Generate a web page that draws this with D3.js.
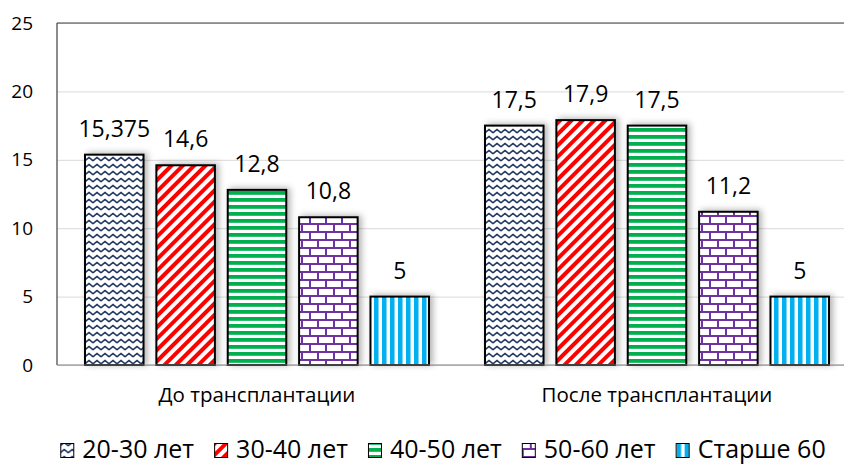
<!DOCTYPE html>
<html>
<head>
<meta charset="utf-8">
<script src="https://cdn.jsdelivr.net/npm/d3@7"></script>
<style>
  body { margin: 0; background: #fff; }
  text { font-family: "Open Sans", sans-serif; fill: #000; }
</style>
</head>
<body>
<div id="chart"></div>
<script>
// data
var groups = ["До трансплантации", "После трансплантации"];
var series = ["20-30 лет", "30-40 лет", "40-50 лет", "50-60 лет", "Старше 60"];
var before = [15.375, 14.6, 12.8, 10.8, 5];
var after = [17.5, 17.9, 17.5, 11.2, 5];
var yTicks = [0, 5, 10, 15, 20, 25];

var values = [before, after];

var svgWidth = 844;
var svgHeight = 464;

var margin = { top: 23, right: -13, bottom: 99, left: 57 };
var width = svgWidth - margin.left - margin.right;
var height = svgHeight - margin.top - margin.bottom;

var svg = d3.select("#chart")
  .append("svg")
  .attr("width", svgWidth)
  .attr("height", svgHeight);

var defs = svg.append("defs");

// drop shadow for bars
var shadow = defs.append("filter")
  .attr("id", "shadow")
  .attr("x", "-20%").attr("y", "-10%")
  .attr("width", "150%").attr("height", "130%");
shadow.append("feDropShadow")
  .attr("dx", 3).attr("dy", -1)
  .attr("stdDeviation", 3)
  .attr("flood-color", "#000")
  .attr("flood-opacity", 0.3);

// patterns
var p;
p = defs.append("pattern").attr("id", "pat0")
  .attr("patternUnits", "userSpaceOnUse").attr("width", 8).attr("height", 7);
p.append("rect").attr("width", 8).attr("height", 7).attr("fill", "#fff");
p.append("path").attr("d", "M0,5 L2,3 L4,1.5 L6,3 L8,5")
  .attr("fill", "none").attr("stroke", "#203864").attr("stroke-width", 1.6);

p = defs.append("pattern").attr("id", "pat1")
  .attr("patternUnits", "userSpaceOnUse").attr("width", 8).attr("height", 8)
  .attr("patternTransform", "rotate(45)");
p.append("rect").attr("width", 8).attr("height", 8).attr("fill", "#fff");
p.append("rect").attr("width", 4).attr("height", 8).attr("fill", "#ff0000");

p = defs.append("pattern").attr("id", "pat2")
  .attr("patternUnits", "userSpaceOnUse").attr("width", 8).attr("height", 7);
p.append("rect").attr("width", 8).attr("height", 7).attr("fill", "#fff");
p.append("rect").attr("width", 8).attr("height", 3.8).attr("fill", "#00b050");

p = defs.append("pattern").attr("id", "pat3")
  .attr("patternUnits", "userSpaceOnUse").attr("width", 16).attr("height", 16);
p.append("rect").attr("width", 16).attr("height", 16).attr("fill", "#fff");
p.append("path").attr("d", "M0,1 H16 M0,9 H16 M1,0 V8 M9,8 V16")
  .attr("fill", "none").attr("stroke", "#7030a0").attr("stroke-width", 2);

p = defs.append("pattern").attr("id", "pat4")
  .attr("patternUnits", "userSpaceOnUse").attr("width", 8).attr("height", 8);
p.append("rect").attr("width", 8).attr("height", 8).attr("fill", "#fff");
p.append("rect").attr("x", 1).attr("width", 4.5).attr("height", 8).attr("fill", "#00b0f0");

var chartGroup = svg.append("g")
  .attr("transform", `translate(${margin.left}, ${margin.top})`);

// scales
var x0 = d3.scaleBand()
  .domain(groups)
  .range([0, width])
  .paddingInner(0.14)
  .paddingOuter(0.07);

var x1 = d3.scaleBand()
  .domain(series)
  .range([0, x0.bandwidth()])
  .paddingInner(0.18);

var y = d3.scaleLinear()
  .domain([0, 25])
  .range([height, 0]);

var locale = d3.formatLocale({ decimal: ",", thousands: " ", grouping: [3], currency: ["", ""] });
var fmt = locale.format("~g");

// gridlines
chartGroup.append("g")
  .call(d3.axisLeft(y).tickValues(yTicks).tickSize(-width).tickFormat(""))
  .call(g => g.select(".domain").remove())
  .call(g => g.selectAll("line").attr("stroke", "#d9d9d9").attr("stroke-width", 1));

// y tick labels
chartGroup.append("g")
  .attr("transform", "translate(-24,0)")
  .call(d3.axisLeft(y).tickValues(yTicks).tickSize(0).tickPadding(0))
  .call(g => g.select(".domain").remove())
  .call(g => g.selectAll("text").attr("font-size", 19).attr("fill", "#000")
    .attr("font-family", "Open Sans"));

// bars
var groupSel = chartGroup.selectAll(".grp")
  .data(groups)
  .enter()
  .append("g")
  .attr("class", "grp")
  .attr("transform", d => `translate(${x0(d)},0)`);

groupSel.selectAll("rect")
  .data((d, i) => values[i].map((v, j) => ({ s: series[j], j: j, v: v })))
  .enter()
  .append("rect")
  .attr("x", d => x1(d.s))
  .attr("y", d => y(d.v))
  .attr("width", x1.bandwidth())
  .attr("height", d => height - y(d.v))
  .attr("fill", d => `url(#pat${d.j})`)
  .attr("stroke", "#000")
  .attr("stroke-width", 2)
  .attr("filter", "url(#shadow)");

// data labels
groupSel.selectAll(".lbl")
  .data((d, i) => values[i].map((v, j) => ({ s: series[j], v: v })))
  .enter()
  .append("text")
  .attr("class", "lbl")
  .attr("x", d => x1(d.s) + x1.bandwidth() / 2)
  .attr("y", d => y(d.v) - 18)
  .attr("text-anchor", "middle")
  .attr("font-size", 23)
  .text(d => fmt(d.v));

// frame: left, top, bottom
chartGroup.append("line")
  .attr("x1", 0).attr("x2", width).attr("y1", 0).attr("y2", 0)
  .attr("stroke", "#404040").attr("stroke-width", 1.2);
chartGroup.append("line")
  .attr("x1", 0).attr("x2", 0).attr("y1", 0).attr("y2", height)
  .attr("stroke", "#404040").attr("stroke-width", 1.2);
chartGroup.append("line")
  .attr("x1", 0).attr("x2", width).attr("y1", height).attr("y2", height)
  .attr("stroke", "#808080").attr("stroke-width", 1.2);

// category labels
chartGroup.selectAll(".cat")
  .data(groups)
  .enter()
  .append("text")
  .attr("class", "cat")
  .attr("x", d => x0(d) + x0.bandwidth() / 2)
  .attr("y", height + 37)
  .attr("text-anchor", "middle")
  .attr("font-size", 20.5)
  .text(d => d);

// legend
var legend = svg.append("g");
var cursor = 0;
series.forEach(function(s, i) {
  var item = legend.append("g").attr("transform", `translate(${cursor},0)`);
  item.append("rect")
    .attr("x", 0.5).attr("y", 443.5)
    .attr("width", 13).attr("height", 14)
    .attr("fill", `url(#pat${i})`)
    .attr("stroke", "#000").attr("stroke-width", 1);
  var t = item.append("text")
    .attr("x", 22).attr("y", 458)
    .attr("font-size", 25)
    .text(s);
  cursor += 22 + t.node().getComputedTextLength() + 20;
});
var legendWidth = cursor - 20;
legend.attr("transform", `translate(${443 - legendWidth / 2},0)`);
</script>
</body>
</html>
